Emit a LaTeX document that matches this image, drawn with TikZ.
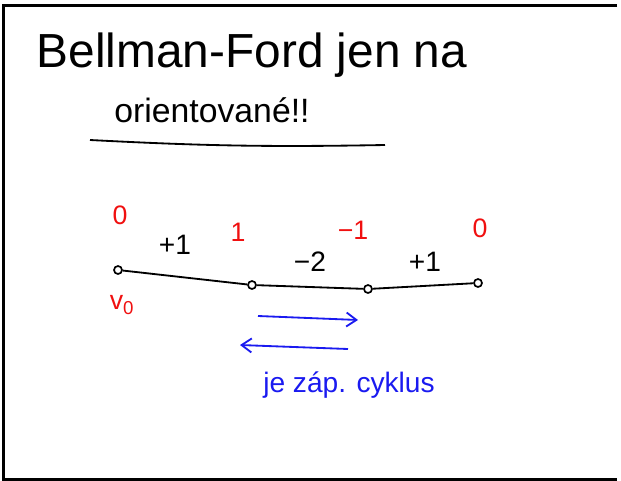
\documentclass[tikz,border=0pt]{standalone}
\usepackage{fontspec}
\setmainfont{Liberation Sans}
\usepackage{tikz}
\usetikzlibrary{arrows.meta,positioning}
\definecolor{cervena}{HTML}{F01010}
\definecolor{modra}{HTML}{1A1AF0}
\tikzset{
  titulek/.style={font=\fontsize{34}{34}\selectfont,inner sep=0pt},
  uzel/.style={draw,circle,line width=1.2pt,inner sep=0pt,minimum size=2mm},
  hrana/.style={line width=1.3pt},
  vaha/.style={font=\fontsize{20}{20}\selectfont,inner sep=0pt},
  stav/.style={text=cervena,font=\fontsize{19}{19}\selectfont,inner sep=0pt},
  sipka/.style={-{Straight Barb[length=2.5mm,width=3.5mm]},line width=1.3pt,color=modra},
}

\begin{document}
\begin{tikzpicture}[x=0.025cm,y=-0.025cm]
  \useasboundingbox (0,0) rectangle (621,481);
  \draw[line width=2pt] (617,5.5) -- (3.5,5.5) -- (3.5,479.5) -- (617,479.5);
  \node[titulek] (t1) at (252,55) {Bellman-Ford jen na};
  \node[titulek,font=\fontsize{24}{24}\selectfont] (t2) at (212,110) {orientované!!};
  \draw[hrana] (90,140) to[bend right=2] (385,145);
  \node[uzel] (v0) at (118,270) {};
  \node[uzel] (v1) at (252,285) {};
  \node[uzel] (v2) at (368,289) {};
  \node[uzel] (v3) at (478,283) {};
  \draw[hrana] (v0) -- (v1) -- (v2) -- (v3);
  \node[vaha] (w1) at (175,245) {+1};
  \node[vaha] (w2) at (310,262) {−2};
  \node[vaha] (w3) at (425,262) {+1};
  \node[stav] (d0) at (120,215) {0};
  \node[stav] (d1) at (238,232) {1};
  \node[stav] (d2) at (353,230) {−1};
  \node[stav] (d3) at (480,228) {0};
  \node[stav] (z) at (122,305) {v\textsubscript{0}};
  \coordinate (s1) at (258,316); \coordinate (s2) at (358,320);
  \coordinate (s3) at (348,349); \coordinate (s4) at (240,345);
  \draw[sipka] (s1) -- (s2);
  \draw[sipka] (s3) -- (s4);
  \node[vaha,text=modra] (cyk) at (349,385) {je záp. cyklus};
\end{tikzpicture}
\end{document}
